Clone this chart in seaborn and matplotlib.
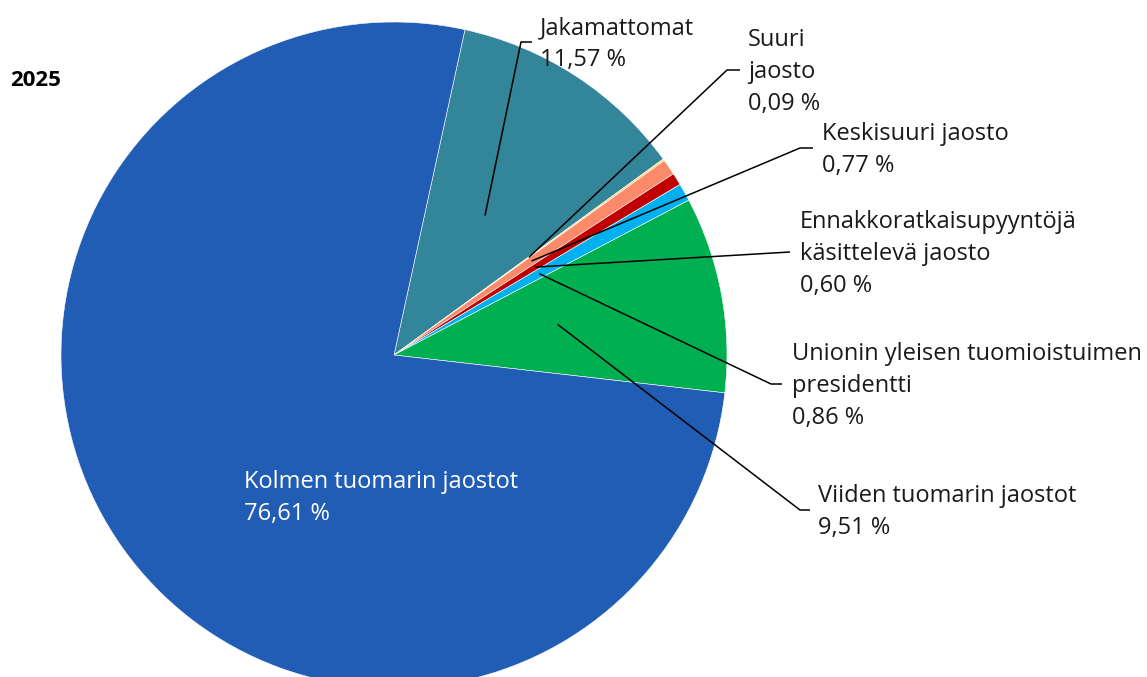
import matplotlib
matplotlib.use("Agg")
import matplotlib.pyplot as plt
import seaborn as sns
import numpy as np

# data (share of cases, %)
labels = ["Jakamattomat", "Suuri\njaosto", "Keskisuuri jaosto",
          "Ennakkoratkaisupyyntöjä\nkäsittelevä jaosto",
          "Unionin yleisen tuomioistuimen\npresidentti",
          "Viiden tuomarin jaostot", "Kolmen tuomarin jaostot"]
shares = [11.57, 0.09, 0.77, 0.60, 0.86, 9.51, 76.61]
colors = ["#338599", "#F2D46B", "#FA8A6A", "#C00000", "#00B0F0", "#00B050", "#215CB5"]
year = "2025"

sns.set_theme(style="white")
plt.rcParams["font.family"] = ["Open Sans", "DejaVu Sans"]

W, H = 1147, 677
fig = plt.figure(figsize=(W / 100, H / 100), dpi=100)
ax = fig.add_axes([0, 0, 1, 1])

cx, cy, R = 394, H - 355, 333
wedges, _ = ax.pie(shares, colors=colors, startangle=77.7, counterclock=False,
                   center=(cx, cy), radius=R,
                   wedgeprops=dict(edgecolor="white", linewidth=0.4))
ax.set_xlim(0, W)
ax.set_ylim(0, H)
ax.axis("off")


def fmt(v):
    return f"{v:.2f}".replace(".", ",") + " %"


# leader lines: (elbow x, label y in px, text x)
leaders = [(521, 42, 540), (727, 70, 748), (800, 148, 822),
           (790, 252, 800), (771, 384, 792), (800, 510, 818)]
hook = [11, 13, 13, 0, 11, 10]

for i, (ex, ly, tx) in enumerate(leaders):
    w = wedges[i]
    mid = np.deg2rad((w.theta1 + w.theta2) / 2)
    sx = cx + 0.5 * R * np.cos(mid)
    sy = cy + 0.5 * R * np.sin(mid)
    y = H - ly
    ax.plot([sx, ex, ex + hook[i]], [sy, y, y], color="black", lw=1.1,
            solid_capstyle="butt")
    ax.text(tx, y - 2, f"{labels[i]}\n{fmt(shares[i])}", ha="left", va="center",
            fontsize=17, color="#1a1a1a", linespacing=1.45)

ax.text(244, H - 498, f"{labels[6]}\n{fmt(shares[6])}", ha="left", va="center",
        fontsize=17, color="white", linespacing=1.45)

fig.text(10 / W, 1 - 80 / H, year, ha="left", va="center",
         fontsize=16, fontweight="bold", color="black")

fig.savefig("out.png", dpi=100)
